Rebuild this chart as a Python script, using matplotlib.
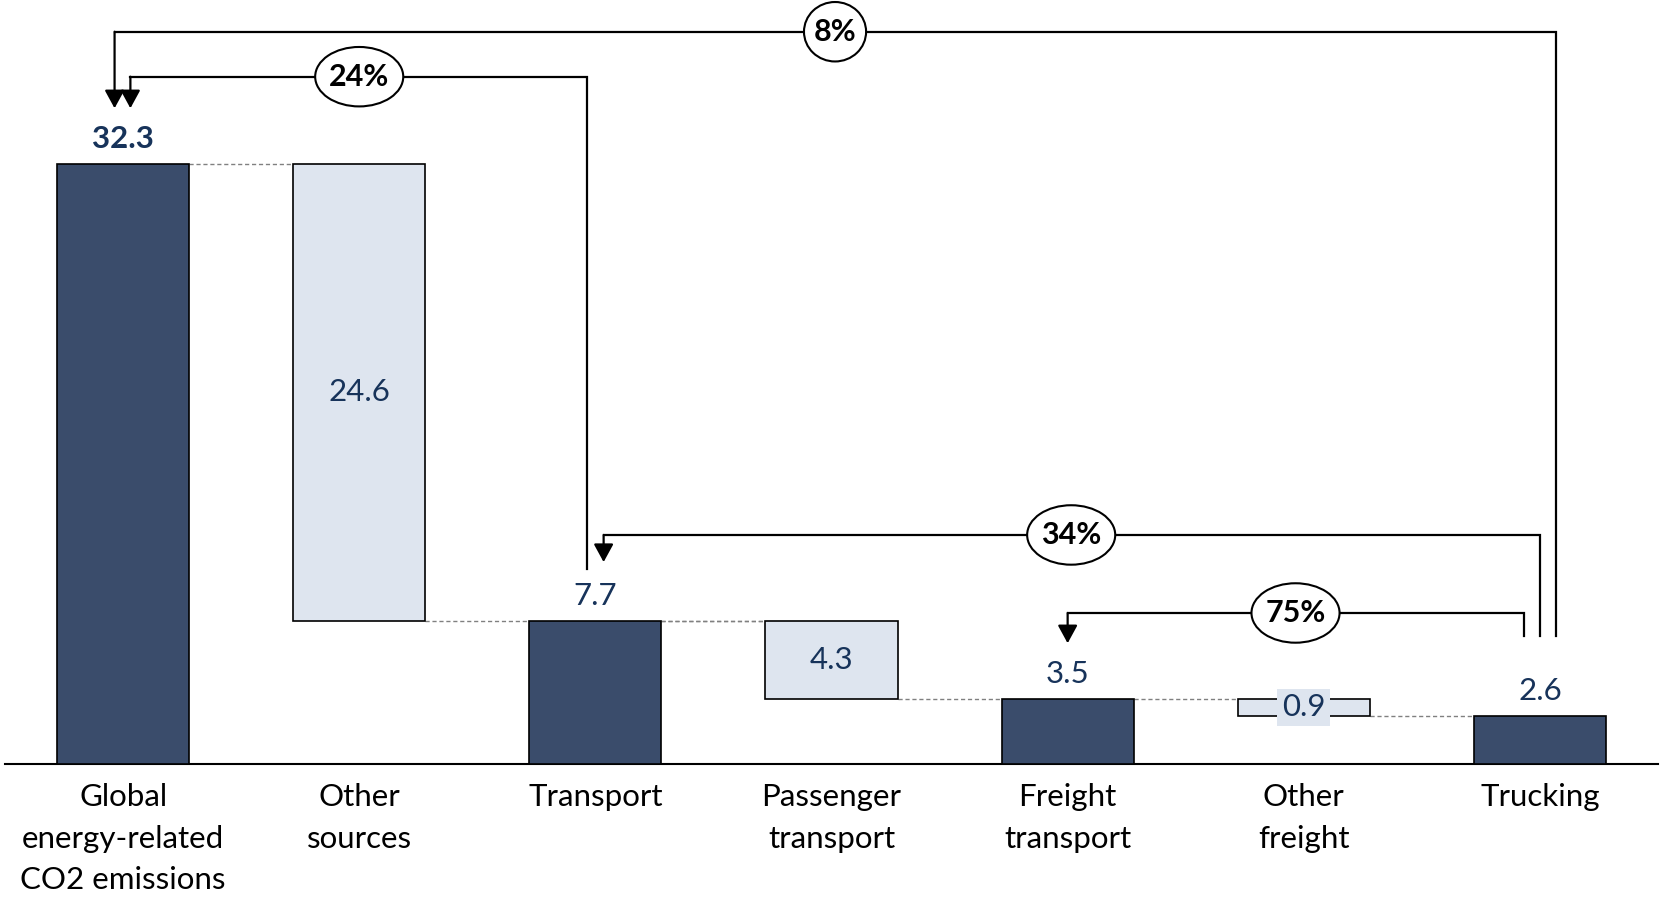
import matplotlib
matplotlib.use("Agg")
import matplotlib.pyplot as plt
from matplotlib.patches import Ellipse

# ==========================================
# DATA
# ==========================================
categories = [
    "Global\nenergy-related\nCO2 emissions",
    "Other\nsources",
    "Transport",
    "Passenger\ntransport",
    "Freight\ntransport",
    "Other\nfreight",
    "Trucking",
]
totals = [32.3, None, 7.7, None, 3.5, None, 2.6]       # solid (dark) bars
steps = [None, 24.6, None, 4.3, None, 0.9, None]       # floating (light) bars
share_labels = ["8%", "24%", "34%", "75%"]

DARK = "#3A4C6B"
LIGHT = "#DEE5EF"
NAVY = "#17335A"
FONT = "Lato"

plt.rcParams["font.family"] = [FONT, "DejaVu Sans"]

# ==========================================
# PLOT
# ==========================================
fig = plt.figure(figsize=(16.61, 9.01), dpi=100)
ax = fig.add_axes([5 / 1661, 0, 1653 / 1661, 1])
unit_px = 600 / 32.3
ax.set_xlim(-0.5, 6.5)
ax.set_ylim(-137 / unit_px, 764 / unit_px)

# axis line first (moving the spine resets tick labels)
for s in ["top", "left", "right"]:
    ax.spines[s].set_visible(False)
ax.spines["bottom"].set_position(("data", 0))
ax.spines["bottom"].set_linewidth(1.5)

W = 0.56
running = None
for i in range(len(categories)):
    if totals[i] is not None:
        running = totals[i]
        ax.bar(i, totals[i], width=W, color=DARK, edgecolor="black", linewidth=1.2, zorder=3)
        ax.annotate(f"{totals[i]:.1f}", (i, totals[i]), xytext=(0, 18), textcoords="offset points",
                    ha="center", va="center", fontsize=22.5, color=NAVY,
                    fontweight="bold" if i == 0 else "normal")
    else:
        top = running
        bottom = totals[i + 1]
        ax.bar(i, top - bottom, bottom=bottom, width=W, color=LIGHT, edgecolor="black",
               linewidth=1.2, zorder=3)
        bbox = dict(boxstyle="square,pad=0.15", fc=LIGHT, ec="none") if top - bottom < 2 else None
        ax.text(i, (top + bottom) / 2, f"{steps[i]:.1f}", ha="center", va="center",
                fontsize=22.5, color=NAVY, bbox=bbox, zorder=5)

# dashed guide lines between neighbouring bars
for i in range(len(categories) - 1):
    y = totals[i] if totals[i] is not None else totals[i + 1]
    ax.plot([i + W / 2, i + 1 - W / 2], [y, y], color="#808080", lw=1,
            ls=(0, (3, 2)), zorder=2)
ax.plot([2 + W / 2, 3 - W / 2], [totals[2], totals[2]], color="#808080", lw=1,
        ls=(0, (3, 2)), zorder=2)


def connector(x_from, y_start, y_level, x_to, y_tip, label, x_label, ell_w):
    ax.plot([x_from, x_from, x_to], [y_start, y_level, y_level], color="black", lw=1.6,
            solid_joinstyle="miter", zorder=4)
    ax.annotate("", xy=(x_to, y_tip), xytext=(x_to, y_level),
                arrowprops=dict(arrowstyle="-|>,head_length=0.55,head_width=0.3",
                                mutation_scale=20, color="black", lw=1.6,
                                shrinkA=0, shrinkB=0), zorder=4)
    ax.add_patch(Ellipse((x_label, y_level), ell_w, 3.2, fc="white", ec="black", lw=1.5, zorder=5))
    ax.text(x_label, y_level, label, ha="center", va="center", fontsize=22,
            fontweight="bold", color="black", zorder=6)


d = 16 / 236.1
tip_gap = 3.0
connector(6 + d, totals[6] + 4.3, 39.42, 0 - 0.036, totals[0] + tip_gap, share_labels[0], 3.015, 0.263)
connector(2 - 0.035, totals[2] + 2.8, 37.0, 0 + 0.031, totals[0] + tip_gap, share_labels[1], 1.0, 0.373)
connector(6, totals[6] + 4.3, 12.33, 2 + 0.035, totals[2] + 3.17, share_labels[2], 4.015, 0.373)
connector(6 - d, totals[6] + 4.3, 8.13, 4, totals[4] + 3.0, share_labels[3], 4.965, 0.373)

ax.set_xticks(range(len(categories)))
ax.set_xticklabels(categories, fontsize=22.5, linespacing=1.58)
ax.tick_params(axis="x", length=0, pad=14)
ax.set_yticks([])

fig.savefig("out.png", dpi=100)
